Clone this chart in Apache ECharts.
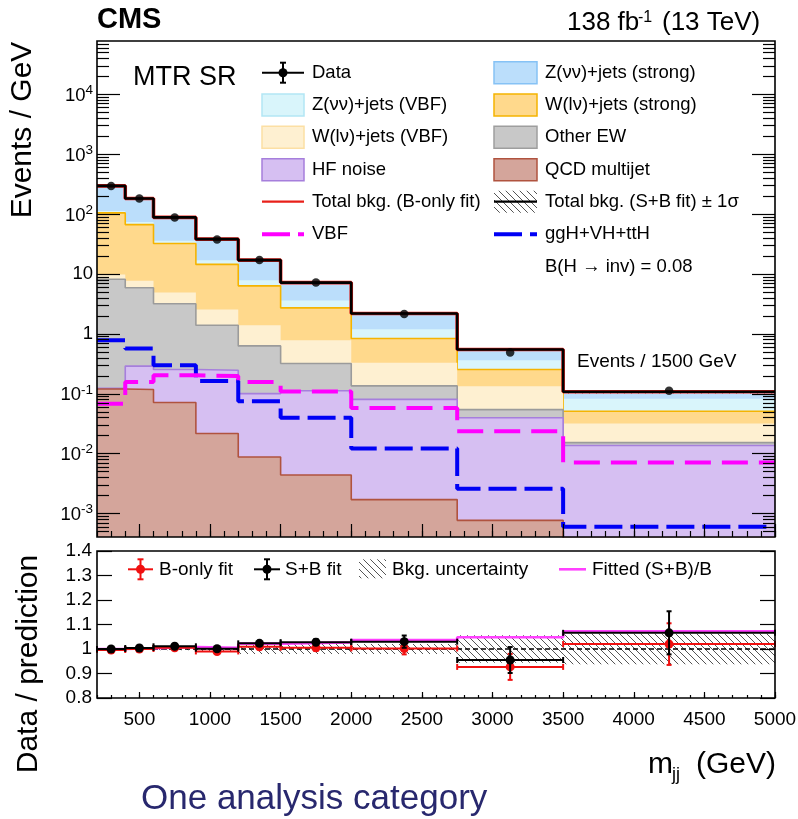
<!DOCTYPE html>
<html><head><meta charset="utf-8">
<script src="https://cdn.jsdelivr.net/npm/echarts@6/dist/echarts.min.js"></script>
<style>html,body{margin:0;padding:0;background:#fff}#c{width:798px;height:819px}</style>
</head><body><div id="c"></div><script>
// ---------------- data ----------------
const binEdges = [200, 400, 600, 900, 1200, 1500, 2000, 2750, 3500, 5000];
const binCenters = [300, 500, 750, 1050, 1350, 1750, 2375, 3125, 4250];
// stacked backgrounds, bottom to top (events / GeV)
const qcdMultijet = [0.12, 0.118, 0.0716, 0.0217, 0.0088, 0.0044, 0.00171, 0.00077, 0.0002];
const hfNoise     = [0.004, 0.172, 0.183, 0.226, 0.092, 0.108, 0.079, 0.039, 0.0135];
const otherEW     = [8.08, 5.61, 2.945, 1.15, 0.53, 0.208, 0.055, 0.0147, 0.0016];
const wlnuVBF     = [1.6, 1.8, 1.7, 1.16, 0.77, 0.466, 0.194, 0.079, 0.0167];
const wlnuStrong  = [95.2, 59.3, 27.5, 11.94, 4.95, 1.934, 0.51, 0.121, 0.019];
const znunuVBF    = [8, 7, 3.6, 2.5, 1.55, 0.88, 0.36, 0.11, 0.032];
const znunuStrong = [184, 109, 52.4, 21.3, 9.2, 3.6, 0.99, 0.186, 0.025];
const dataValues  = [295, 183, 88, 37.9, 17.2, 7.2, 2.15, 0.49, 0.112];
const vbfSignal   = [0.068, 0.158, 0.204, 0.198, 0.158, 0.109, 0.058, 0.0237, 0.0071];
const ggHSignal   = [0.785, 0.571, 0.30, 0.163, 0.075, 0.040, 0.0122, 0.0026, 0.0006];
// ratio panel
const ratioBOnly     = [0.996, 1.0, 1.005, 0.99, 1.009, 1.005, 1.002, 0.927, 1.02];
const ratioBOnlyErr  = [0.004, 0.005, 0.006, 0.008, 0.010, 0.013, 0.024, 0.053, 0.085];
const ratioSB        = [1.0, 1.004, 1.011, 1.001, 1.023, 1.028, 1.03, 0.955, 1.066];
const ratioSBErr     = [0.004, 0.005, 0.006, 0.008, 0.010, 0.013, 0.025, 0.053, 0.088];
const fittedSBoverB  = [1.0, 1.003, 1.008, 1.005, 1.022, 1.027, 1.037, 1.048, 1.072];
const bkgUncertainty = [0.004, 0.004, 0.005, 0.008, 0.02, 0.02, 0.02, 0.056, 0.062];
// ticks
const xLabelTicks = [500, 1000, 1500, 2000, 2500, 3000, 3500, 4000, 4500, 5000];
const logMajorTicks = [0.001, 0.01, 0.1, 1, 10, 100, 1000, 10000];
const ratioTickLabels = ['0.8', '0.9', '1', '1.1', '1.2', '1.3', '1.4'];

// ---------------- helpers ----------------
const F = '"Liberation Sans", Arial, Helvetica, sans-serif';
const FN = 'Liberation Sans';
const Y_MIN = 4.06e-4, Y_MAX = 7.8e4;
const logMinorTicks = [];
for (let k = -4; k <= 4; k++) for (let m = 2; m <= 9; m++) {
  const v = m * Math.pow(10, k);
  if (v > Y_MIN && v < Y_MAX) logMinorTicks.push(v);
}
function makeHatch(color, s, lw) {
  const c = document.createElement('canvas');
  c.width = s; c.height = s;
  const ctx = c.getContext('2d');
  ctx.strokeStyle = color; ctx.lineWidth = lw;
  ctx.beginPath();
  ctx.moveTo(-1, -1); ctx.lineTo(s + 1, s + 1);
  ctx.moveTo(-1, s - 1); ctx.lineTo(1, s + 1);
  ctx.moveTo(s - 1, -1); ctx.lineTo(s + 1, 1);
  ctx.stroke();
  return c;
}
const hatch = { image: makeHatch('#555', 7, 1), repeat: 'repeat' };

const stackOrder = [qcdMultijet, hfNoise, otherEW, wlnuVBF, wlnuStrong, znunuVBF, znunuStrong];
const cumulative = [];
let run = binCenters.map(() => 0);
stackOrder.forEach(arr => { run = run.map((v, i) => v + arr[i]); cumulative.push(run); });
const totalBkg = cumulative[cumulative.length - 1];

const stepData = vals => binEdges.map((e, i) => [e, vals[Math.min(i, vals.length - 1)]]);

const stackStyles = [
  { fill: '#D4A59B', line: '#B0533F' },   // QCD
  { fill: '#D6BFF2', line: '#A67FDC' },   // HF noise
  { fill: '#C8C8C8', line: '#9B9B9B' },   // Other EW
  { fill: '#FEF0D1', line: null },        // W VBF
  { fill: '#FFD98C', line: '#F5B400' },   // W strong
  { fill: '#D9F5FB', line: null },        // Z VBF
  { fill: '#BBDEFB', line: null }         // Z strong
];

const series = [];
let zc = 2;
for (let k = cumulative.length - 1; k >= 0; k--) {
  const st = stackStyles[k];
  series.push({
    type: 'line', step: 'end', symbol: 'none', xAxisIndex: 0, yAxisIndex: 0, z: zc++,
    data: stepData(cumulative[k]),
    lineStyle: st.line ? { color: st.line, width: 1.6 } : { width: 0, opacity: 0 },
    areaStyle: { color: st.fill, opacity: 1, origin: 'start' },
    silent: true
  });
}
// hatch band on total (upper)
series.push({
  type: 'custom', xAxisIndex: 0, yAxisIndex: 0, z: zc++, silent: true,
  data: binCenters.map((c, i) => [binEdges[i], binEdges[i + 1], totalBkg[i] * (1 - bkgUncertainty[i]), totalBkg[i] * (1 + bkgUncertainty[i])]),
  encode: { x: [0, 1], y: [2, 3] },
  renderItem: (p, api) => {
    const a = api.coord([api.value(0), api.value(3)]);
    const b = api.coord([api.value(1), api.value(2)]);
    return { type: 'rect', shape: { x: a[0], y: a[1], width: b[0] - a[0], height: b[1] - a[1] }, style: { fill: hatch } };
  }
});
series.push({
  type: 'line', step: 'end', symbol: 'none', xAxisIndex: 0, yAxisIndex: 0, z: zc++, silent: true,
  data: stepData(ggHSignal), lineStyle: { color: '#0000F5', width: 4, type: [28, 8] }
});
series.push({
  type: 'line', step: 'end', symbol: 'none', xAxisIndex: 0, yAxisIndex: 0, z: zc++, silent: true,
  data: stepData(vbfSignal), lineStyle: { color: '#FF00FF', width: 4, type: [26, 11] }
});
series.push({
  type: 'line', step: 'end', symbol: 'none', xAxisIndex: 0, yAxisIndex: 0, z: zc++, silent: true,
  data: stepData(totalBkg), lineStyle: { color: '#E8201A', width: 3.6 }
});
series.push({
  type: 'line', step: 'end', symbol: 'none', xAxisIndex: 0, yAxisIndex: 0, z: zc++, silent: true,
  data: stepData(totalBkg), lineStyle: { color: '#000', width: 2.6 }
});
series.push({
  type: 'scatter', xAxisIndex: 0, yAxisIndex: 0, z: zc++, silent: true,
  symbol: 'circle', symbolSize: 8.5, itemStyle: { color: '#000' },
  data: binCenters.map((x, i) => [x, dataValues[i]])
});

// ---------------- ratio panel ----------------
series.push({
  type: 'custom', xAxisIndex: 2, yAxisIndex: 4, z: zc++, silent: true,
  data: binCenters.map((c, i) => [binEdges[i], binEdges[i + 1], 1 - bkgUncertainty[i], 1 + bkgUncertainty[i]]),
  encode: { x: [0, 1], y: [2, 3] },
  renderItem: (p, api) => {
    const a = api.coord([api.value(0), api.value(3)]);
    const b = api.coord([api.value(1), api.value(2)]);
    return { type: 'rect', shape: { x: a[0], y: a[1], width: b[0] - a[0], height: b[1] - a[1] }, style: { fill: hatch } };
  }
});
series.push({
  type: 'line', symbol: 'none', xAxisIndex: 2, yAxisIndex: 4, z: zc++, silent: true,
  data: [[binEdges[0], 1], [binEdges[binEdges.length - 1], 1]],
  lineStyle: { color: '#000', width: 1.6, type: [5, 3] }
});
series.push({
  type: 'line', step: 'end', symbol: 'none', xAxisIndex: 2, yAxisIndex: 4, z: zc++, silent: true,
  data: stepData(fittedSBoverB), lineStyle: { color: '#FF40FF', width: 2.6 }
});
function errRender(color) {
  return (p, api) => {
    const xlo = api.value(0), xhi = api.value(1), xc = api.value(2), y = api.value(3), e = api.value(4);
    const L = api.coord([xlo, y]), R = api.coord([xhi, y]), C = api.coord([xc, y]);
    const T = api.coord([xc, y + e]), B = api.coord([xc, y - e]);
    const st = { stroke: color, lineWidth: 2 };
    const ln = (x1, y1, x2, y2) => ({ type: 'line', shape: { x1, y1, x2, y2 }, style: st });
    return { type: 'group', children: [
      ln(L[0], L[1], R[0], R[1]),
      ln(L[0], L[1] - 3, L[0], L[1] + 3),
      ln(R[0], R[1] - 3, R[0], R[1] + 3),
      ln(T[0], T[1], B[0], B[1]),
      ln(T[0] - 2.5, T[1], T[0] + 2.5, T[1]),
      ln(B[0] - 2.5, B[1], B[0] + 2.5, B[1]),
      { type: 'circle', shape: { cx: C[0], cy: C[1], r: 4.5 }, style: { fill: color } }
    ] };
  };
}
series.push({
  type: 'custom', xAxisIndex: 2, yAxisIndex: 4, z: zc++, silent: true,
  data: binCenters.map((c, i) => [binEdges[i], binEdges[i + 1], c, ratioBOnly[i], ratioBOnlyErr[i]]),
  encode: { x: [0, 1, 2], y: [3] }, renderItem: errRender('#F01010')
});
series.push({
  type: 'custom', xAxisIndex: 2, yAxisIndex: 4, z: zc++, silent: true,
  data: binCenters.map((c, i) => [binEdges[i], binEdges[i + 1], c, ratioSB[i], ratioSBErr[i]]),
  encode: { x: [0, 1, 2], y: [3] }, renderItem: errRender('#000')
});

// ---------------- axes ----------------
const xMin = binEdges[0], xMax = binEdges[binEdges.length - 1];
const baseX = (grid, len, custom, labels) => ({
  type: 'value', gridIndex: grid, position: 'bottom', min: xMin, max: xMax, interval: 100, z: 30,
  axisLine: { show: false }, splitLine: { show: false },
  axisTick: Object.assign({ show: true, inside: true, length: len, lineStyle: { color: '#000', width: 1.2 } }, custom ? { customValues: custom } : {}),
  axisLabel: labels ? { show: true, customValues: xLabelTicks, formatter: v => String(Math.round(v)), fontSize: 19, fontFamily: FN, color: '#000', margin: 12 } : { show: false }
});
const logLabel = v => {
  const k = Math.round(Math.log10(v));
  if (k === 0) return '1';
  if (k === 1) return '10';
  return '{b|10}{s|' + k + '}';
};
const baseYlog = (pos, len, custom, labels) => ({
  type: 'log', logBase: 10, gridIndex: 0, position: pos, min: Y_MIN, max: Y_MAX, z: 30,
  axisLine: { show: false }, splitLine: { show: false },
  axisTick: { show: true, inside: true, length: len, customValues: custom, lineStyle: { color: '#000', width: 1.2 } },
  axisLabel: labels ? {
    show: true, customValues: logMajorTicks, formatter: logLabel, fontSize: 18.5, fontFamily: FN, color: '#000', margin: 4,
    rich: { b: { fontSize: 18.5, fontFamily: FN, color: '#000', lineHeight: 22, verticalAlign: 'bottom' },
            s: { fontSize: 13.5, fontFamily: FN, color: '#000', verticalAlign: 'top' } }
  } : { show: false }
});
const baseYratio = (pos, labels) => ({
  type: 'value', gridIndex: 1, position: pos, min: 0.8, max: 1.4, interval: 0.1, z: 30,
  axisLine: { show: false }, splitLine: { show: false },
  axisTick: { show: true, inside: true, length: 15, lineStyle: { color: '#000', width: 1.2 } },
  axisLabel: labels ? { show: true, showMinLabel: true, showMaxLabel: true, fontSize: 19, fontFamily: FN, color: '#000', margin: 5,
    formatter: v => ratioTickLabels[Math.round((v - 0.8) * 10)] } : { show: false }
});

// ---------------- graphic (titles, legends, frames) ----------------
function T(x, y, text, size, o = {}) {
  return { type: 'text', x, y, rotation: o.rot || 0, z: 100, silent: true,
    style: { text, font: (o.bold ? 'bold ' : '') + size + 'px ' + F, fill: o.color || '#000',
      align: o.align || 'left', verticalAlign: 'middle', textAlign: o.align || 'left', textVerticalAlign: 'middle' } };
}
function L(x1, y1, x2, y2, stroke, w, dash) {
  return { type: 'line', z: 100, silent: true, shape: { x1, y1, x2, y2 }, style: { stroke, lineWidth: w, lineDash: dash || null } };
}
function Box(x, y, w, h, fill, stroke) {
  return { type: 'rect', z: 100, silent: true, shape: { x, y, width: w, height: h }, style: { fill, stroke: stroke || null, lineWidth: stroke ? 1.5 : 0 } };
}
function marker(cx, cy, x1, x2, color, eh) {
  return [L(x1, cy, x2, cy, color, 2), L(cx, cy - eh, cx, cy + eh, color, 2),
    L(cx - 3, cy - eh, cx + 3, cy - eh, color, 2), L(cx - 3, cy + eh, cx + 3, cy + eh, color, 2),
    { type: 'circle', z: 101, silent: true, shape: { cx, cy, r: 4.5 }, style: { fill: color } }];
}
const R = [72.7, 105, 137.2, 169.8, 201.7, 234.3, 266.7];
const xL = 262, wL = 42, tL = 312, xR = 494, wR = 43, tR = 545, bh = 22, LF = 18.5;
const g = [];
// frames
g.push({ type: 'rect', z: 95, silent: true, shape: { x: 97, y: 41, width: 678, height: 496 }, style: { fill: 'none', stroke: '#000', lineWidth: 1.6 } });
g.push({ type: 'rect', z: 95, silent: true, shape: { x: 97, y: 551, width: 678, height: 147 }, style: { fill: 'none', stroke: '#000', lineWidth: 1.6 } });
// titles
g.push(T(97, 20, 'CMS', 29, { bold: true }));
g.push(T(567, 22.5, '138 fb', 26));
g.push(T(638, 17.5, '-1', 16));
g.push(T(662, 22.5, '(13 TeV)', 26));
g.push(T(23, 130, 'Events / GeV', 30, { rot: Math.PI / 2, align: 'center' }));
g.push(T(28.5, 664, 'Data / prediction', 30, { rot: Math.PI / 2, align: 'center' }));
g.push(T(648, 765, 'm', 30));
g.push(T(672, 775, 'jj', 18));
g.push(T(776, 765, '(GeV)', 30, { align: 'right' }));
g.push(T(141, 799, 'One analysis category', 35, { color: '#28286E' }));
g.push(T(133, 77.8, 'MTR SR', 27));
g.push(T(577, 361.7, 'Events / 1500 GeV', 19));
// upper legend, left column
g.push(...marker(xL + wL / 2, R[0], xL, xL + wL, '#000', 10));
g.push(T(tL, R[0], 'Data', LF));
g.push(Box(xL, R[1] - bh / 2, wL, bh, '#D9F5FB', '#B2E6F5'));
g.push(T(tL, R[1], 'Z(νν)+jets (VBF)', LF));
g.push(Box(xL, R[2] - bh / 2, wL, bh, '#FEF0D1', '#FCDFA4'));
g.push(T(tL, R[2], 'W(lν)+jets (VBF)', LF));
g.push(Box(xL, R[3] - bh / 2, wL, bh, '#D6BFF2', '#A67FDC'));
g.push(T(tL, R[3], 'HF noise', LF));
g.push(L(xL, R[4], xL + wL, R[4], '#E8201A', 2.2));
g.push(T(tL, R[4], 'Total bkg. (B-only fit)', LF));
g.push(L(xL, R[5], xL + wL, R[5], '#FF00FF', 4, [28, 8]));
g.push(T(tL, R[5], 'VBF', LF));
// upper legend, right column
g.push(Box(xR, R[0] - bh / 2, wR, bh, '#BBDEFB', '#86C2F5'));
g.push(T(tR, R[0], 'Z(νν)+jets (strong)', LF));
g.push(Box(xR, R[1] - bh / 2, wR, bh, '#FFD98C', '#F5B400'));
g.push(T(tR, R[1], 'W(lν)+jets (strong)', LF));
g.push(Box(xR, R[2] - bh / 2, wR, bh, '#C8C8C8', '#9E9E9E'));
g.push(T(tR, R[2], 'Other EW', LF));
g.push(Box(xR, R[3] - bh / 2, wR, bh, '#D4A59B', '#B0533F'));
g.push(T(tR, R[3], 'QCD multijet', LF));
g.push(Box(xR, R[4] - bh / 2, wR, bh, hatch));
g.push(L(xR, R[4], xR + wR, R[4], '#000', 2.2));
g.push(T(tR, R[4], 'Total bkg. (S+B fit) ± 1σ', LF));
g.push(L(xR, R[5], xR + wR, R[5], '#0000F5', 4, [28, 8]));
g.push(T(tR, R[5], 'ggH+VH+ttH', LF));
g.push(T(tR, R[6], 'B(H → inv) = 0.08', LF));
// lower legend
const ly = 569.3;
g.push(...marker(140.5, ly, 128, 153, '#F01010', 10));
g.push(T(159, ly, 'B-only fit', 19));
g.push(...marker(267, ly, 254, 280, '#000', 10));
g.push(T(285, ly, 'S+B fit', 19));
g.push(Box(359, ly - 10, 27, 19, hatch));
g.push(T(392, ly, 'Bkg. uncertainty', 19));
g.push(L(559, ly, 586, ly, '#FF40FF', 2.6));
g.push(T(592, ly, 'Fitted (S+B)/B', 19));

const option = {
  animation: false,
  backgroundColor: '#fff',
  grid: [
    { left: 97, top: 41, width: 678, height: 496, containLabel: false, outerBoundsMode: 'none', show: false },
    { left: 97, top: 551, width: 678, height: 147, containLabel: false, outerBoundsMode: 'none', show: false }
  ],
  xAxis: [
    baseX(0, 6, null, false),
    baseX(0, 13, xLabelTicks, false),
    baseX(1, 3, null, false),
    baseX(1, 6, xLabelTicks, true)
  ],
  yAxis: [
    baseYlog('left', 23, logMajorTicks, true),
    baseYlog('left', 12, logMinorTicks, false),
    baseYlog('right', 23, logMajorTicks, false),
    baseYlog('right', 12, logMinorTicks, false),
    baseYratio('left', true),
    baseYratio('right', false)
  ],
  series,
  graphic: { elements: g }
};
const chart = echarts.init(document.getElementById('c'), null, { renderer: 'canvas' });
chart.setOption(option);
</script></body></html>
